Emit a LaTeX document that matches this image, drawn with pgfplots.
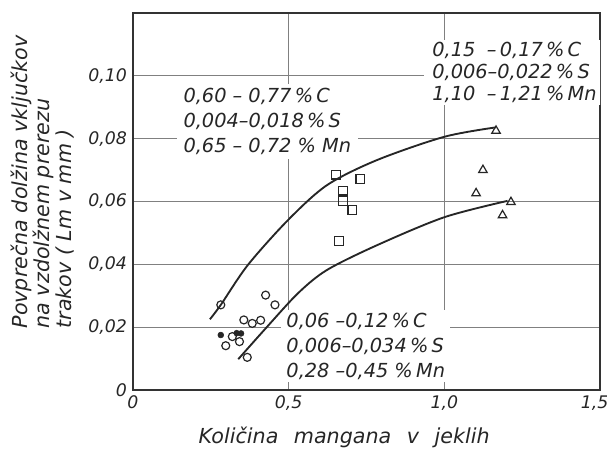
\documentclass[border=0pt]{standalone}
\usepackage{pgfplots}
\pgfplotsset{compat=1.18}
\usepackage{fontspec}
\setmainfont{DejaVu Sans}
\begin{document}
\begin{tikzpicture}
\begin{axis}[
  scale only axis, width=350.25pt, height=282.75pt,
  xmin=0, xmax=1.5, ymin=0, ymax=0.12,
  xtick={0,0.5,1,1.5}, xticklabels={0,{0,5},{1,0},{1,5\hspace*{8pt}}},
  ytick={0,0.02,0.04,0.06,0.08,0.10},
  yticklabels={0,{0,02},{0,04},{0,06},{0,08},{0,10}},
  grid=major, major grid style={black!50, line width=0.8pt},
  major tick length=0pt,
  axis line style={line width=1.4pt, black!80},
  tick label style={font=\fontsize{13}{15}\selectfont\itshape, text=black!85},
  xticklabel style={yshift=-1pt},
  yticklabel style={xshift=-1pt},
  xlabel={Količina\hspace{0.75em}mangana\hspace{0.75em}v\hspace{0.75em}jeklih},
  xlabel style={at={(axis description cs:0.452,-0.125)}, anchor=center,
    font=\fontsize{15.5}{17}\selectfont\itshape, text=black!85},
  ylabel={Povprečna dolžina vključkov\\na vzdolžnem prerezu\\trakov ( Lm v mm )},
  ylabel style={at={(axis description cs:-0.193,0.151)}, anchor=west, rotate=0,
    align=left, font=\fontsize{15.5}{16.5}\selectfont\itshape, text=black!85},
]
% annotation blocks (white background hides the grid)
\node[anchor=north west, fill=white, inner xsep=6pt, inner ysep=2pt, align=left,
  font=\fontsize{14.5}{16.3}\selectfont\itshape, text=black!85]
  at (axis cs:0.935,0.1115)
  {0,15\hspace{0.6em}--\,0,17\,\%\,C\\0,006--0,022\,\%\,S\\1,10\hspace{0.6em}--\,1,21\,\%\,Mn};
\node[anchor=north west, fill=white, inner xsep=5pt, inner ysep=3pt, align=left,
  font=\fontsize{14.5}{18.75}\selectfont\itshape, text=black!85]
  at (axis cs:0.14,0.0975)
  {0,60 -- 0,77\,\%\,C\\0,004--0,018\,\%\,S\\0,65 -- 0,72 \% Mn};
\node[anchor=north west, fill=white, inner xsep=4pt, inner ysep=2pt, align=left,
  font=\fontsize{14.5}{18.75}\selectfont\itshape, text=black!85]
  at (axis cs:0.475,0.0255)
  {0,06 --0,12\,\%\,C\\0,006--0,034\,\%\,S\\0,28 --0,45 \%\,Mn};
% fitted curves
\addplot[black!85, line width=1.4pt, smooth] coordinates {
  (0.247,0.0225) (0.282,0.0271) (0.369,0.0398) (0.498,0.0541)
  (0.623,0.0652) (0.784,0.0732) (1.0,0.0806) (1.166,0.0836)};
\addplot[black!85, line width=1.4pt, smooth] coordinates {
  (0.338,0.0098) (0.426,0.0196) (0.530,0.0308) (0.623,0.0382)
  (0.784,0.0461) (1.0,0.055) (1.203,0.0602)};
% triangles: 1,10-1,21 % Mn
\addplot[only marks, mark=triangle, mark size=3.7pt, black!85, mark options={line width=0.9pt, fill=white}] coordinates {
  (1.166,0.0825) (1.124,0.070) (1.102,0.0626) (1.214,0.0598) (1.187,0.0556)};
% squares: 0,65-0,72 % Mn
\addplot[only marks, mark=square, mark size=3.2pt, black!85, mark options={line width=0.9pt, fill=white}] coordinates {
  (0.652,0.0685) (0.73,0.0672) (0.674,0.0634) (0.674,0.0602) (0.704,0.0573) (0.662,0.0474)};
% circles: 0,28-0,45 % Mn
\addplot[only marks, mark=o, mark size=3pt, black!85, mark options={line width=0.9pt, fill=white}] coordinates {
  (0.282,0.0271) (0.426,0.0302) (0.456,0.0271) (0.356,0.0223) (0.383,0.0212)
  (0.41,0.0222) (0.319,0.0170) (0.342,0.0154) (0.298,0.0141) (0.367,0.0104)};
% filled dots
\addplot[only marks, mark=*, mark size=2.2pt, black!85] coordinates {
  (0.282,0.0175) (0.333,0.0181) (0.347,0.0180)};
\end{axis}
\pgfresetboundingbox
\path[use as bounding box] ([shift={(-99.75pt,-45.75pt)}]current axis.south west)
  rectangle ([shift={(5.25pt,9.75pt)}]current axis.north east);
\end{tikzpicture}
\end{document}
